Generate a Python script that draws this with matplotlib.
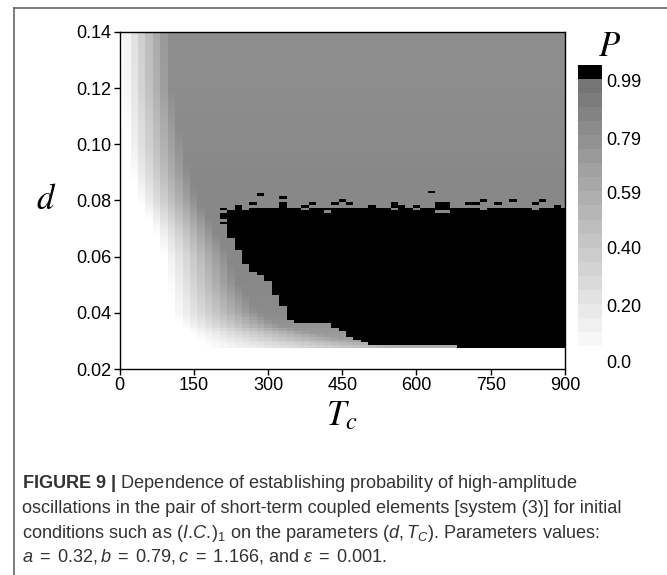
import numpy as np
import matplotlib
matplotlib.use("Agg")
import matplotlib.pyplot as plt
import matplotlib.colors as mcolors
from matplotlib.lines import Line2D

plt.rcParams['font.family'] = ['Liberation Sans', 'DejaVu Sans']
plt.rcParams['mathtext.fontset'] = 'custom'
plt.rcParams['mathtext.rm'] = 'Liberation Sans'
plt.rcParams['mathtext.it'] = 'Liberation Sans:italic'
plt.rcParams['mathtext.bf'] = 'Liberation Sans:bold'

# grid of the map (cell centres)
t_values = np.arange(0, 901, 15)
d_values = np.round(np.arange(0.028, 0.1405, 0.001), 3)

# gray field at a few d levels:
# where P starts rising from 0, where it reaches its plateau, plateau level
d_anchor = [0.028, 0.030, 0.035, 0.040, 0.050, 0.060, 0.070, 0.080, 0.090, 0.100, 0.120, 0.140]
t_start = [170, 160, 125, 108, 100, 90, 70, 40, 25, 15, 8, 5]
t_full = [560, 480, 330, 280, 240, 220, 190, 160, 140, 127, 105, 100]
p_full = [0.55, 0.65, 0.74, 0.80, 0.82, 0.82, 0.82, 0.82, 0.82, 0.81, 0.79, 0.79]

# black (P > 0.99) zone: lowest black row per column, top row 0.077
black_t = list(range(210, 901, 15))
black_low = [0.072, 0.067, 0.063, 0.058, 0.055, 0.054, 0.052, 0.047, 0.043, 0.038,
             0.037, 0.037, 0.037, 0.037, 0.037, 0.035, 0.034, 0.032, 0.031, 0.030,
             0.029, 0.029, 0.029, 0.029, 0.029, 0.029, 0.029, 0.029, 0.029, 0.029,
             0.029, 0.029, 0.028, 0.028, 0.028, 0.028, 0.028, 0.028, 0.028, 0.028,
             0.028, 0.028, 0.028, 0.028, 0.028, 0.028, 0.028]
black_top = 0.077

# ragged upper edge of the black zone
extra_t = [240, 270, 285, 330, 330, 330, 375, 390, 435, 450, 465, 510, 555, 555, 570,
           600, 630, 645, 645, 660, 660, 705, 720, 735, 765, 795, 840, 855, 885]
extra_d = [0.078, 0.079, 0.082, 0.078, 0.079, 0.081, 0.078, 0.079, 0.079, 0.080, 0.079,
           0.078, 0.078, 0.079, 0.078, 0.078, 0.083, 0.078, 0.079, 0.078, 0.079, 0.079,
           0.079, 0.080, 0.079, 0.080, 0.079, 0.080, 0.078]
hole_t = [210, 210, 225, 255, 375, 420, 555, 600, 645, 660, 735, 840]
hole_d = [0.076, 0.073, 0.077, 0.077, 0.077, 0.076, 0.077, 0.077, 0.076, 0.076, 0.077, 0.077]

# colour bar
cbar_levels = [0.05, 0.10, 0.15, 0.20, 0.25, 0.30, 0.35, 0.40, 0.45, 0.50,
               0.55, 0.60, 0.65, 0.70, 0.75, 0.80, 0.85, 0.90, 0.95, 1.0]
cbar_labels = ['0.99', '0.79', '0.59', '0.40', '0.20', '0.0']
cbar_label_pos = [18.9, 14.8, 10.9, 7.0, 2.85, -1.14]

x_ticks = [0, 150, 300, 450, 600, 750, 900]
y_ticks = [0.02, 0.04, 0.06, 0.08, 0.10, 0.12, 0.14]

caption = [
    r"$\mathbf{FIGURE\ 9\ |}$ Dependence of establishing probability of high-amplitude",
    "oscillations in the pair of short-term coupled elements [system (3)] for initial",
    r"conditions such as $(\mathit{I.\!C.\!})_1$ on the parameters $(d, T_C)$. Parameters values:",
    r"$a\;=\;0.32, b\;=\;0.79, c\;=\;1.166$, and $\varepsilon\;=\;0.001$.",
]

# build the map
P = np.zeros((len(d_values), len(t_values)))
for i, d in enumerate(d_values):
    ts = np.interp(d, d_anchor, t_start)
    tf = np.interp(d, d_anchor, t_full)
    pf = np.interp(d, d_anchor, p_full)
    P[i] = pf * np.clip((t_values - ts) / (tf - ts), 0, 1)
plateau = P.copy()

col = {t: j for j, t in enumerate(t_values)}
row = {round(d, 3): i for i, d in enumerate(d_values)}
for t, low in zip(black_t, black_low):
    mask = (d_values >= low - 1e-9) & (d_values <= black_top + 1e-9)
    P[mask, col[t]] = 1.0
for t, d in zip(extra_t, extra_d):
    P[row[d], col[t]] = 1.0
for t, d in zip(hole_t, hole_d):
    P[row[d], col[t]] = plateau[row[d], col[t]]

cmap = mcolors.LinearSegmentedColormap.from_list(
    'pgray', [(0.0, '#ffffff'), (0.989, '#707070'), (0.99, '#000000'), (1.0, '#000000')], N=512)

W, H = 667, 575
fig = plt.figure(figsize=(W / 100, H / 100), dpi=100)

ax = fig.add_axes([119.5 / W, 1 - 369 / H, 445.5 / W, 337 / H])
t_edges = np.append(t_values - 7.5, t_values[-1] + 7.5)
d_edges = np.append(d_values - 0.0005, d_values[-1] + 0.0005)
ax.pcolormesh(t_edges, d_edges, P, cmap=cmap, vmin=0, vmax=1, shading='flat')
ax.set_xlim(0, 900)
ax.set_ylim(0.02, 0.14)
ax.set_xticks(x_ticks)
ax.set_xticklabels([str(t) for t in x_ticks])
ax.set_yticks(y_ticks)
ax.set_yticklabels(['%.2f' % v for v in y_ticks])
ax.tick_params(direction='out', length=4, width=1, labelsize=13, pad=2, colors='black')
for s in ax.spines.values():
    s.set_linewidth(1.0)

ax.set_xlabel(r'$T_c$', fontsize=25, math_fontfamily='stix', labelpad=0)
ax.set_ylabel(r'$d$', fontsize=25, math_fontfamily='stix', rotation=0, labelpad=0)
ax.yaxis.set_label_coords(-0.165, 0.455)
ax.xaxis.set_label_coords(0.5, -0.09)

# colour bar
cax = fig.add_axes([578 / W, 1 - 367 / H, 24 / W, (367 - 65) / H])
cax.imshow(np.array(cbar_levels)[::-1].reshape(-1, 1), cmap=cmap, vmin=0, vmax=1,
           extent=[0, 1, 0, len(cbar_levels)], aspect='auto', interpolation='nearest')
cax.set_xlim(0, 1)
cax.set_ylim(-1.5, len(cbar_levels))
for s in cax.spines.values():
    s.set_visible(False)
cax.set_xticks([])
cax.yaxis.tick_right()
cax.set_yticks(cbar_label_pos)
cax.set_yticklabels(cbar_labels)
cax.tick_params(length=0, pad=3, labelsize=13)
fig.text(610 / W, 1 - 47 / H, r'$P$', fontsize=25, math_fontfamily='stix', ha='center', va='center')

# caption
baselines = [488, 513, 538, 562]
for line, yb in zip(caption, baselines):
    fig.text(22 / W, 1 - yb / H, line, fontsize=13.1, color='#333333', va='baseline', ha='left')

# frame of the figure panel
fig.add_artist(Line2D([14 / W, 1], [1 - 8 / H, 1 - 8 / H], color='#666666', lw=1.2))
fig.add_artist(Line2D([14 / W, 14 / W], [0, 1 - 8 / H], color='#666666', lw=1.2))

fig.savefig('out.png', dpi=100)
